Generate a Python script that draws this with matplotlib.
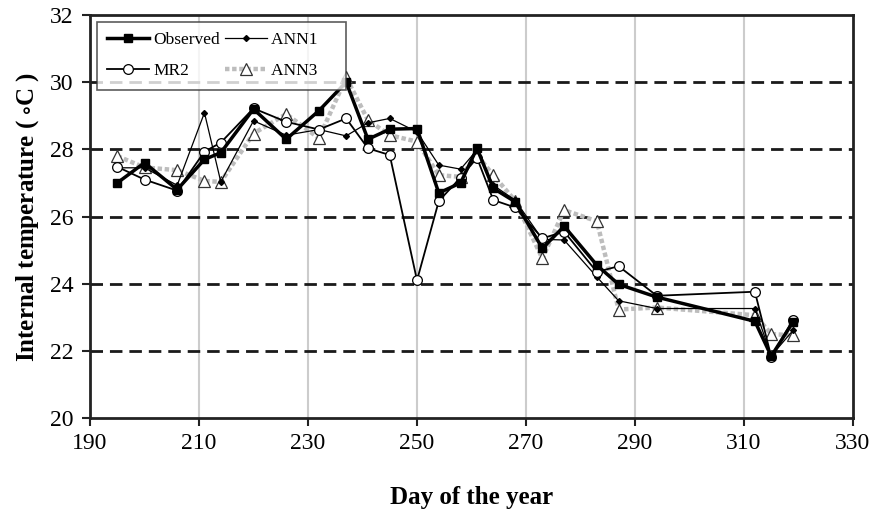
import matplotlib
matplotlib.use("Agg")
import matplotlib.pyplot as plt

days = [195, 200, 206, 211, 214, 220, 226, 232, 237, 241, 245, 250, 254,
        258, 261, 264, 268, 273, 277, 283, 287, 294, 312, 315, 319]
observed = [27.0, 27.6, 26.8, 27.7, 27.9, 29.2, 28.3, 29.15, 30.0, 28.3, 28.6,
            28.62, 26.7, 27.0, 28.03, 26.84, 26.44, 25.05, 25.71, 24.55, 23.98,
            23.6, 22.88, 21.84, 22.86]
mr2 = [27.48, 27.1, 26.77, 27.93, 28.2, 29.22, 28.82, 28.59, 28.92, 28.03, 27.83,
       24.1, 26.46, 27.16, 27.75, 26.49, 26.27, 25.35, 25.55, 24.35, 24.52,
       23.64, 23.76, 21.82, 22.93]
ann1 = [27.45, 27.45, 26.93, 29.09, 27.03, 28.85, 28.42, 28.59, 28.4, 28.79, 28.92,
        28.52, 27.53, 27.41, 27.98, 26.93, 26.49, 25.32, 25.3, 24.2, 23.49,
        23.26, 23.26, 21.85, 22.61]
ann3 = [27.8, 27.46, 27.38, 27.06, 27.03, 28.47, 29.05, 28.33, 30.14, 28.87, 28.42,
        28.23, 27.23, 27.18, 27.83, 27.23, 26.47, 24.75, 26.19, 25.86, 23.23,
        23.29, 23.06, 22.5, 22.46]

xticks = [190, 210, 230, 250, 270, 290, 310, 330]
yticks = [20, 22, 24, 26, 28, 30, 32]
dash_levels = [22, 24, 26, 28, 30]

plt.rcParams['font.family'] = ['Liberation Serif', 'DejaVu Serif']
plt.rcParams['mathtext.fontset'] = 'stix'

fig = plt.figure(figsize=(8.75, 5.13), dpi=100)
ax = fig.add_axes([90/875, 1-418/513, (853-90)/875, (418-15)/513])

for xv in xticks[1:-1]:
    ax.axvline(xv, color='#cccccc', lw=1.5, zorder=0.5)
for yv in dash_levels:
    ax.axhline(yv, color='#1a1a1a', lw=2, ls=(0, (4.5, 2.5)), zorder=0.6)

ax.plot(days, ann3, color='#bdbdbd', lw=3.2, ls=(0, (1, 0.6)), marker='^', ms=8,
        mfc='white', mec='#333333', mew=0.9, zorder=2, label='ANN3')
ax.plot(days, ann1, color='black', lw=0.9, marker='D', ms=3, mfc='black',
        mec='black', zorder=3, label='ANN1')
ax.plot(days, mr2, color='black', lw=1.3, marker='o', ms=7, mfc='white',
        mec='black', mew=0.9, zorder=4, label='MR2')
ax.plot(days, observed, color='black', lw=2.5, marker='s', ms=5.5, mfc='black',
        mec='black', zorder=5, label='Observed')

ax.set_xlim(190, 330)
ax.set_ylim(20, 32)
ax.set_xticks(xticks)
ax.set_yticks(yticks)
ax.tick_params(axis='both', direction='out', length=6, width=1.5, labelsize=17,
               color='#222222')
ax.tick_params(axis='x', pad=5)
ax.tick_params(axis='y', pad=6)
for sp in ax.spines.values():
    sp.set_linewidth(2)
    sp.set_color('#222222')
    sp.set_zorder(6)

ax.set_xlabel('Day of the year', fontsize=18, fontweight='bold', labelpad=23)
ax.set_ylabel(r'Internal temperature ( $\circ$C )', fontsize=18, fontweight='bold',
              labelpad=6)

handles, labels = ax.get_legend_handles_labels()
order = [labels.index(n) for n in ['Observed', 'MR2', 'ANN1', 'ANN3']]
leg_labels = ['Observed', 'MR2', 'ANN1    ', 'ANN3    ']
leg = ax.legend([handles[i] for i in order], leg_labels, ncol=2,
                loc='upper left', bbox_to_anchor=(0.009, 0.983), fontsize=12.5,
                frameon=True, fancybox=False, edgecolor='#333333',
                handlelength=2.4, handletextpad=0.25, columnspacing=0.3,
                borderpad=0.6, labelspacing=0.85, borderaxespad=0)
leg.get_frame().set_linewidth(1.2)
leg.set_zorder(7)

fig.savefig('out.png', dpi=100)
